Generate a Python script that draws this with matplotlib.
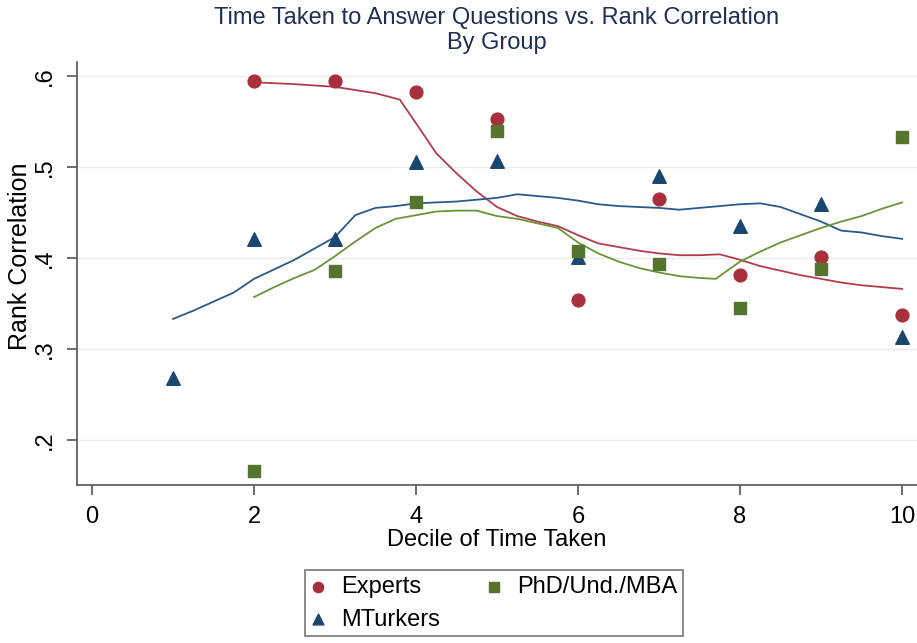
import numpy as np
import matplotlib.pyplot as plt

plt.rcParams['font.family'] = ['Liberation Sans', 'DejaVu Sans']

# scatter points (decile, rank correlation)
exp_x = [2, 3, 4, 5, 6, 7, 8, 9, 10]
exp_y = [0.594, 0.594, 0.582, 0.553, 0.354, 0.465, 0.381, 0.401, 0.337]
mt_x = [1, 2, 3, 4, 5, 6, 7, 8, 9, 10]
mt_y = [0.268, 0.421, 0.421, 0.505, 0.507, 0.401, 0.490, 0.435, 0.459, 0.313]
phd_x = [2, 3, 4, 5, 6, 7, 8, 9, 10]
phd_y = [0.166, 0.386, 0.462, 0.539, 0.408, 0.393, 0.345, 0.388, 0.533]

# smoothed (lowess) curves
exp_sx = [2, 2.5, 3, 3.5, 3.8, 4, 4.25, 4.5, 4.75, 5, 5.25, 5.5, 5.75, 6, 6.25,
          6.5, 6.75, 7, 7.25, 7.5, 7.75, 8, 8.25, 8.5, 8.75, 9, 9.25, 9.5, 9.75, 10]
exp_sy = [0.593, 0.591, 0.588, 0.581, 0.574, 0.548, 0.515, 0.493, 0.473, 0.456,
          0.446, 0.440, 0.435, 0.425, 0.416, 0.412, 0.408, 0.405, 0.403, 0.403,
          0.404, 0.398, 0.391, 0.386, 0.381, 0.377, 0.373, 0.370, 0.368, 0.366]
mt_sx = [1, 1.25, 1.5, 1.75, 2, 2.5, 3, 3.25, 3.5, 3.75, 4, 4.5, 4.75, 5, 5.25,
         5.5, 5.75, 6, 6.25, 6.5, 6.75, 7, 7.25, 7.5, 7.75, 8, 8.25, 8.5, 8.75,
         9, 9.25, 9.5, 9.75, 10]
mt_sy = [0.333, 0.342, 0.352, 0.362, 0.377, 0.398, 0.423, 0.447, 0.455, 0.457,
         0.460, 0.462, 0.464, 0.466, 0.470, 0.468, 0.466, 0.463, 0.459, 0.457,
         0.456, 0.455, 0.453, 0.455, 0.457, 0.459, 0.460, 0.456, 0.448, 0.440,
         0.430, 0.428, 0.424, 0.421]
phd_sx = [2, 2.25, 2.5, 2.75, 3, 3.25, 3.5, 3.75, 4, 4.25, 4.5, 4.75, 5, 5.25,
          5.5, 5.75, 6, 6.25, 6.5, 6.75, 7, 7.25, 7.5, 7.7, 8, 8.25, 8.5, 8.75,
          9, 9.25, 9.5, 9.75, 10]
phd_sy = [0.357, 0.368, 0.378, 0.387, 0.402, 0.418, 0.433, 0.443, 0.447, 0.451,
          0.452, 0.452, 0.446, 0.443, 0.438, 0.433, 0.417, 0.405, 0.396, 0.389,
          0.384, 0.380, 0.378, 0.377, 0.396, 0.407, 0.417, 0.425, 0.433, 0.440,
          0.446, 0.454, 0.461]

red = '#a8303c'
blue = '#1a476f'
green = '#55752f'

fig = plt.figure(figsize=(9.17, 6.43), dpi=100)
ax = fig.add_axes([0.084, 0.2457, 0.916, 0.658])

ax.plot(exp_sx, exp_sy, color='#b23c4a', lw=1.3, zorder=2)
ax.plot(mt_sx, mt_sy, color='#2a5a8a', lw=1.3, zorder=2)
ax.plot(phd_sx, phd_sy, color='#6a9438', lw=1.3, zorder=2)

ax.scatter(exp_x, exp_y, s=85, marker='o', color=red, label='Experts', zorder=3)
ax.scatter(mt_x, mt_y, s=95, marker='^', color=blue, label='MTurkers', zorder=3)
ax.scatter(phd_x, phd_y, s=85, marker='s', color=green, label='PhD/Und./MBA', zorder=3)

ax.set_xlim(-0.185, 10.185)
ax.set_ylim(0.1505, 0.6154)
ax.set_xticks([0, 2, 4, 6, 8, 10])
ax.set_yticks([0.2, 0.3, 0.4, 0.5, 0.6])
ax.set_yticklabels(['.2', '.3', '.4', '.5', '.6'], rotation=90, va='center')
ax.grid(axis='y', color='#ececec', lw=1)
ax.set_axisbelow(True)
for s in ['top', 'right']:
    ax.spines[s].set_visible(False)
for s in ['left', 'bottom']:
    ax.spines[s].set_color('#555555')
    ax.spines[s].set_linewidth(1.2)
ax.tick_params(length=7, color='#555555', labelsize=17, width=1.2)
ax.tick_params(axis='x', pad=8)
ax.tick_params(axis='y', pad=8)

ax.set_xlabel('Decile of Time Taken', fontsize=17)
ax.xaxis.set_label_coords(0.5, -0.105)
ax.set_ylabel('Rank Correlation', fontsize=18)
ax.yaxis.set_label_coords(-0.054, 0.54)

fig.text(0.542, 0.972, 'Time Taken to Answer Questions vs. Rank Correlation',
         ha='center', va='center', fontsize=17, color='#1e2e55')
fig.text(0.542, 0.933, 'By Group', ha='center', va='center', fontsize=17,
         color='#1e2e55')

leg = ax.legend(loc='upper left', bbox_to_anchor=(305 / 917, 73 / 643),
                bbox_transform=fig.transFigure, ncol=2, fontsize=17,
                frameon=True, fancybox=False, edgecolor='#555555',
                borderaxespad=0, handletextpad=0.68, columnspacing=2.0,
                markerscale=0.8, labelspacing=0.45, borderpad=0.25,
                handlelength=0.6)
leg.get_frame().set_linewidth(1.2)

fig.savefig('out.png', dpi=100)
